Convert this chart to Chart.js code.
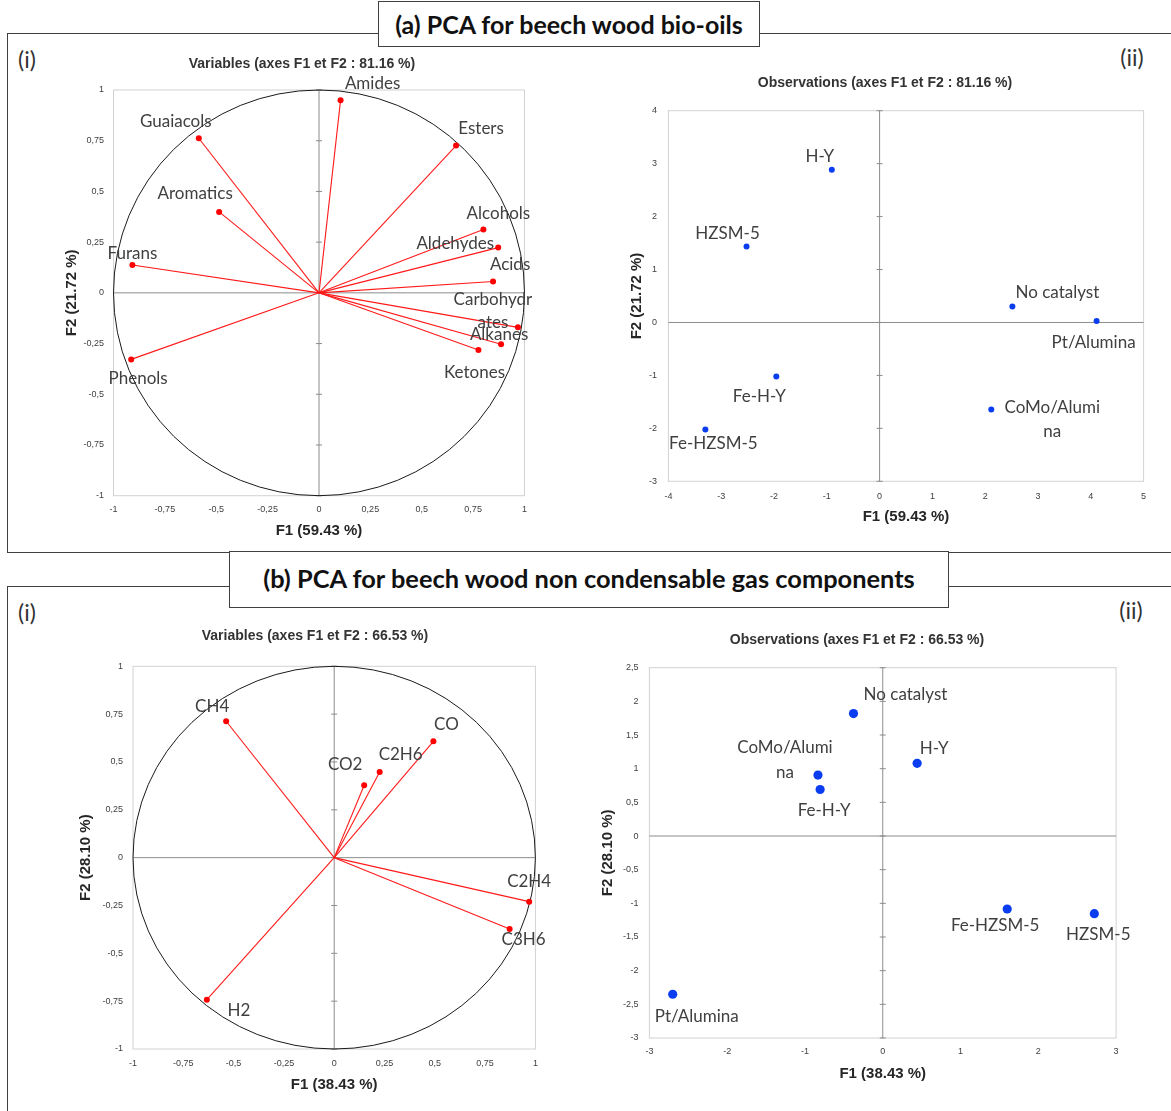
<!DOCTYPE html>
<html>
<head>
<meta charset="utf-8">
<script src="https://cdn.jsdelivr.net/npm/chart.js@4.4.1/dist/chart.umd.min.js"></script>
<style>
  html, body { margin: 0; padding: 0; background: #fff; }
  body { width: 1171px; height: 1111px; position: relative; overflow: hidden; font-family: Lato, 'Open Sans', sans-serif; }
  .panel { position: absolute; border: 1.4px solid #404040; box-sizing: border-box; }
  .ptitle { position: absolute; border: 1.4px solid #404040; box-sizing: border-box; background: #fff;
            font-weight: bold; font-size: 25px; color: #111; display: flex; align-items: center;
            justify-content: center; white-space: nowrap; }
  .tag { position: absolute; font-size: 23px; color: #333; line-height: 1; transform: translate(-50%, -50%); }
  canvas { position: absolute; }
</style>
</head>
<body>
<div class="panel" style="left:7px;top:33px;width:1200px;height:520px"></div>
<div class="panel" style="left:7px;top:586px;width:1200px;height:600px"></div>
<div class="ptitle" style="left:378px;top:1px;width:382px;height:46px">(a) PCA for beech wood bio-oils</div>
<div class="ptitle" style="left:229px;top:551px;width:720px;height:57px;padding-bottom:4px;font-size:25.4px">(b) PCA for beech wood non condensable gas components</div>
<div class="tag" style="left:27px;top:59px">(i)</div>
<div class="tag" style="left:1132px;top:57px">(ii)</div>
<div class="tag" style="left:27px;top:612px">(i)</div>
<div class="tag" style="left:1131px;top:610px">(ii)</div>

<canvas id="varA" width="544" height="500" style="left:30px;top:45px"></canvas>
<canvas id="obsA" width="570" height="485" style="left:600px;top:60px"></canvas>
<canvas id="varB" width="550" height="490" style="left:40px;top:615px"></canvas>
<canvas id="obsB" width="580" height="490" style="left:590px;top:615px"></canvas>

<script>
// ---- Bio-oil PCA: variable loadings (correlation circle) ----
const varNamesA = ['Amides', 'Guaiacols', 'Esters', 'Aromatics', 'Alcohols', 'Aldehydes',
                   'Furans', 'Acids', 'Carbohydr\nates', 'Alkanes', 'Ketones', 'Phenols'];
const varF1A = [0.105, -0.585, 0.667, -0.486, 0.800, 0.872, -0.908, 0.847, 0.968, 0.886, 0.776, -0.914];
const varF2A = [0.950, 0.762, 0.726, 0.399, 0.312, 0.223, 0.137, 0.056, -0.170, -0.253, -0.282, -0.328];

// ---- Bio-oil PCA: catalyst observations ----
const obsNamesA = ['H-Y', 'HZSM-5', 'No catalyst', 'Pt/Alumina', 'Fe-H-Y', 'CoMo/Alumi\nna', 'Fe-HZSM-5'];
const obsF1A = [-0.905, -2.52, 2.515, 4.11, -1.956, 2.115, -3.30];
const obsF2A = [2.886, 1.437, 0.302, 0.030, -1.020, -1.645, -2.020];

// ---- Gas PCA: variable loadings ----
const varNamesB = ['CH4', 'CO', 'C2H6', 'CO2', 'C2H4', 'C3H6', 'H2'];
const varF1B = [-0.537, 0.493, 0.226, 0.149, 0.969, 0.872, -0.633];
const varF2B = [0.713, 0.608, 0.448, 0.378, -0.230, -0.373, -0.742];

// ---- Gas PCA: catalyst observations ----
const obsNamesB = ['No catalyst', 'H-Y', 'CoMo/Alumi\nna', 'Fe-H-Y', 'Fe-HZSM-5', 'HZSM-5', 'Pt/Alumina'];
const obsF1B = [-0.376, 0.442, -0.833, -0.805, 1.60, 2.72, -2.70];
const obsF2B = [1.819, 1.079, 0.905, 0.691, -1.084, -1.153, -2.35];

// ---- axis tick values ----
const varTicks   = [-1, -0.75, -0.5, -0.25, 0, 0.25, 0.5, 0.75, 1];
const obsTicksAx = [-4, -3, -2, -1, 0, 1, 2, 3, 4, 5];
const obsTicksAy = [-3, -2, -1, 0, 1, 2, 3, 4];
const obsTicksBx = [-3, -2, -1, 0, 1, 2, 3];
const obsTicksBy = [-3, -2.5, -2, -1.5, -1, -0.5, 0, 0.5, 1, 1.5, 2, 2.5];

// ---- label placement relative to each point (pixels) ----
const varLabelPosA = [[32,-17],[-23,-17],[25,-17],[-24,-18],[15,-16],[-43,-4],[0,-12],[17,-17],[-25,-28],[-2,-10],[-4,22],[7,19]];
const obsLabelPosA = [[-12,-13],[-19,-13],[45,-14],[-3,22],[-17,20],[61,-2],[8,14]];
const varLabelPosB = [[-14,-15],[13,-17],[21,-17],[-19,-21],[0,-20],[14,10],[32,11]];
const obsLabelPosB = [[52,-19],[17,-15],[-33,-28],[4,21],[-12,17],[4,21],[24,22]];

const TICK_FONT = { family: "'Liberation Sans', Arial, sans-serif", size: 9 };
const AXIS_FONT = { family: "'Liberation Sans Narrow', 'Liberation Sans', Arial, sans-serif", size: 15, weight: 'bold', lineHeight: 1.2 };
const CHART_TITLE_FONT = "bold 14px 'Liberation Sans Narrow', 'Liberation Sans', Arial, sans-serif";
const LABEL_FONT = "17px Lato, 'Open Sans', sans-serif";

const fmt = v => String(v).replace('.', ',');

function biplotPlugin(cfg) {
  return {
    id: 'biplot',
    beforeDatasetsDraw(chart) {
      const { ctx, chartArea: a, scales: { x, y } } = chart;
      const x0 = x.getPixelForValue(0), y0 = y.getPixelForValue(0);
      ctx.save();
      ctx.lineWidth = 1;
      ctx.strokeStyle = '#d2d2d2';
      ctx.strokeRect(a.left, a.top, a.right - a.left, a.bottom - a.top);
      ctx.strokeStyle = '#8c8c8c';
      ctx.beginPath();
      ctx.moveTo(a.left, y0); ctx.lineTo(a.right, y0);
      ctx.moveTo(x0, a.top); ctx.lineTo(x0, a.bottom);
      y.ticks.forEach(t => {
        const py = y.getPixelForValue(t.value);
        ctx.moveTo(x0 - 3, py); ctx.lineTo(x0 + 3, py);
      });
      ctx.stroke();
      if (cfg.circle) {
        // unit correlation circle
        const rx = x.getPixelForValue(1) - x0, ry = y0 - y.getPixelForValue(1);
        ctx.strokeStyle = '#1a1a1a';
        ctx.beginPath();
        ctx.ellipse(x0, y0, rx, ry, 0, 0, Math.PI * 2);
        ctx.stroke();
      }
      ctx.restore();
    },
    afterDatasetsDraw(chart) {
      const { ctx, scales: { x, y } } = chart;
      ctx.save();
      ctx.font = LABEL_FONT;
      ctx.fillStyle = '#404040';
      ctx.textAlign = 'center';
      ctx.textBaseline = 'middle';
      cfg.names.forEach((name, i) => {
        const px = x.getPixelForValue(cfg.f1[i]) + cfg.labelPos[i][0];
        const py = y.getPixelForValue(cfg.f2[i]) + cfg.labelPos[i][1];
        name.split('\n').forEach((line, k) => ctx.fillText(line, px, py + k * cfg.lineGap));
      });
      ctx.font = CHART_TITLE_FONT;
      ctx.fillStyle = '#333';
      ctx.fillText(cfg.title, cfg.titleAt[0], cfg.titleAt[1]);
      ctx.restore();
    }
  };
}

function biplot(id, cfg) {
  const datasets = cfg.circle
    ? cfg.names.map((n, i) => ({
        label: n,
        data: [{ x: 0, y: 0 }, { x: cfg.f1[i], y: cfg.f2[i] }],
        showLine: true,
        borderColor: '#ff1a1a',
        borderWidth: 1.1,
        pointRadius: [0, cfg.r],
        pointBackgroundColor: '#ff0000',
        pointBorderWidth: 0,
        clip: false
      }))
    : [{
        label: 'observations',
        data: cfg.f1.map((v, i) => ({ x: v, y: cfg.f2[i] })),
        showLine: false,
        pointRadius: cfg.r,
        pointBackgroundColor: '#0a3cf0',
        pointBorderWidth: 0,
        clip: false
      }];

  const axis = (a) => ({
    type: 'linear',
    min: a.ticks[0],
    max: a.ticks[a.ticks.length - 1],
    afterBuildTicks: s => { s.ticks = a.ticks.map(v => ({ value: v })); },
    afterFit: s => { if (a.width !== undefined) s.width = a.width; else s.height = a.height; },
    grid: { display: false, drawTicks: false },
    border: { display: false },
    ticks: { padding: a.pad, font: TICK_FONT, color: '#404040', autoSkip: false, maxRotation: 0, callback: v => fmt(v) },
    title: { display: true, text: a.title, font: AXIS_FONT, color: '#262626', padding: a.titlePad }
  });

  return new Chart(document.getElementById(id), {
    type: 'scatter',
    data: { datasets },
    options: {
      responsive: false,
      animation: false,
      events: [],
      devicePixelRatio: 1,
      layout: { padding: { top: cfg.padTop, right: cfg.padRight, bottom: 0, left: 0 } },
      plugins: { legend: { display: false }, tooltip: { enabled: false }, title: { display: false } },
      scales: {
        x: axis({ ticks: cfg.xTicks, height: cfg.xH, pad: cfg.xPad, title: cfg.xTitle, titlePad: { top: 0, bottom: cfg.xTitlePad } }),
        y: axis({ ticks: cfg.yTicks, width: cfg.yW, pad: cfg.yPad, title: cfg.yTitle, titlePad: { top: cfg.yTitlePad, bottom: 0 } })
      }
    },
    plugins: [biplotPlugin(cfg)]
  });
}

biplot('varA', {
  circle: true, names: varNamesA, f1: varF1A, f2: varF2A, labelPos: varLabelPosA, lineGap: 23.5, r: 3,
  xTicks: varTicks, yTicks: varTicks,
  title: 'Variables (axes F1 et F2 : 81.16 %)', titleAt: [272, 19],
  xTitle: 'F1 (59.43 %)', yTitle: 'F2 (21.72 %)',
  padTop: 45, padRight: 49.5, yW: 83.5, xH: 49.3, yPad: 9.5, xPad: 8.9, yTitlePad: 33, xTitlePad: 5
});

biplot('obsA', {
  circle: false, names: obsNamesA, f1: obsF1A, f2: obsF2A, labelPos: obsLabelPosA, lineGap: 23.5, r: 3,
  xTicks: obsTicksAx, yTicks: obsTicksAy,
  title: 'Observations (axes F1 et F2 : 81.16 %)', titleAt: [285, 23],
  xTitle: 'F1 (59.43 %)', yTitle: 'F2 (21.72 %)',
  padTop: 50.7, padRight: 26.4, yW: 68.4, xH: 63.7, yPad: 11.4, xPad: 10, yTitlePad: 28, xTitlePad: 19
});

biplot('varB', {
  circle: true, names: varNamesB, f1: varF1B, f2: varF2B, labelPos: varLabelPosB, lineGap: 24, r: 3,
  xTicks: varTicks, yTicks: varTicks,
  title: 'Variables (axes F1 et F2 : 66.53 %)', titleAt: [275, 21],
  xTitle: 'F1 (38.43 %)', yTitle: 'F2 (28.10 %)',
  padTop: 51.3, padRight: 54.6, yW: 93, xH: 56, yPad: 10, xPad: 8.9, yTitlePad: 37, xTitlePad: 11
});

biplot('obsB', {
  circle: false, names: obsNamesB, f1: obsF1B, f2: obsF2B, labelPos: obsLabelPosB, lineGap: 25, r: 4.6,
  xTicks: obsTicksBx, yTicks: obsTicksBy,
  title: 'Observations (axes F1 et F2 : 66.53 %)', titleAt: [267, 25],
  xTitle: 'F1 (38.43 %)', yTitle: 'F2 (28.10 %)',
  padTop: 52.7, padRight: 53.9, yW: 59.4, xH: 67, yPad: 11, xPad: 8.3, yTitlePad: 9, xTitlePad: 22
});
</script>
</body>
</html>
